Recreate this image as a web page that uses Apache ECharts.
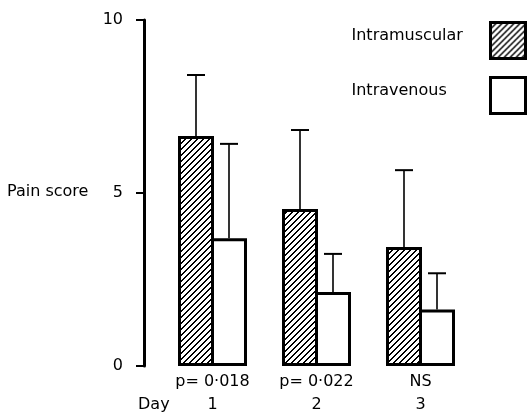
<!DOCTYPE html>
<html>
<head>
<meta charset="utf-8">
<script src="https://cdn.jsdelivr.net/npm/echarts@6/dist/echarts.min.js"></script>
<style>
html,body{margin:0;padding:0;background:#fff;}
#chart{width:527px;height:414px;}
</style>
</head>
<body>
<div id="chart"></div>
<script>
// ---- data ----
const days = ['1', '2', '3'];
const pLabels = ['p= 0·018', 'p= 0·022', 'NS'];
const seriesNames = ['Intramuscular', 'Intravenous'];
const intramuscular = [6.65, 4.54, 3.44];
const intramuscularUpper = [8.41, 6.82, 5.66];
const intravenous = [3.69, 2.14, 1.63];
const intravenousUpper = [6.42, 3.24, 2.68];
const yTicks = [0, 5, 10];

// ---- hatch pattern (crisp pixel diagonal "/") ----
function makeHatch() {
  const n = 6;
  const c = document.createElement('canvas');
  c.width = n; c.height = n;
  const g = c.getContext('2d');
  g.fillStyle = '#fff';
  g.fillRect(0, 0, n, n);
  g.fillStyle = '#000';
  for (let y = 0; y < n; y++) {
    const x = (n - 1 - y);
    g.fillRect(x, y, 1, 1);
    g.fillRect((x + 1) % n, y, 1, 1);
  }
  return c;
}
const hatch = makeHatch();

const BAR_W = 36;
const BORDER = 3;
const HALF_STEP = (BAR_W - BORDER) / 2;
const FONT = 'DejaVu Sans';
const FS = 16;

function errSeries(name, base, upper, side) {
  return {
    type: 'custom',
    name: name + ' error',
    silent: true,
    z: 1,
    data: base.map((v, i) => [i, v, upper[i]]),
    encode: { x: 0, y: [1, 2] },
    renderItem: function (params, api) {
      const lo = api.coord([api.value(0), api.value(1)]);
      const hi = api.coord([api.value(0), api.value(2)]);
      const x = lo[0] + side * HALF_STEP;
      return {
        type: 'group',
        children: [
          { type: 'line', shape: { x1: x, y1: lo[1], x2: x, y2: hi[1] }, style: { stroke: '#000', lineWidth: 1.6 } },
          { type: 'line', shape: { x1: x - 9, y1: hi[1], x2: x + 9, y2: hi[1] }, style: { stroke: '#000', lineWidth: 2 } }
        ]
      };
    }
  };
}

const chart = echarts.init(document.getElementById('chart'), null, { renderer: 'canvas' });
chart.setOption({
  animation: false,
  backgroundColor: '#fff',
  textStyle: { fontFamily: FONT, color: '#000' },
  grid: { left: 160.5, width: 312, top: 20, bottom: 48, containLabel: false, outerBoundsMode: 'none' },
  legend: {
    orient: 'vertical',
    right: 0,
    top: 21,
    padding: 0,
    align: 'right',
    itemWidth: 35,
    itemHeight: 36,
    itemGap: 16,
    icon: 'rect',
    data: seriesNames,
    itemStyle: { borderColor: '#000', borderWidth: 3 },
    formatter: function (name) { return '{t|' + name + '}'; },
    textStyle: {
      fontFamily: FONT, fontSize: FS, color: '#000',
      rich: { t: { width: 134, align: 'left', padding: [0, 0, 10, 0], fontFamily: FONT, fontSize: FS, color: '#000' } }
    }
  },
  xAxis: {
    type: 'category',
    data: days,
    axisLine: { show: false },
    axisTick: { show: false },
    splitLine: { show: false },
    axisLabel: {
      interval: 0,
      margin: 4,
      color: '#000',
      fontFamily: FONT,
      fontSize: FS,
      lineHeight: 23,
      formatter: function (v, i) { return pLabels[i] + '\n' + v; }
    }
  },
  yAxis: {
    type: 'value',
    min: 0, max: 10, interval: 5,
    offset: 16.5,
    axisLine: { show: true, lineStyle: { color: '#000', width: 3 } },
    axisTick: { show: true, length: 8, lineStyle: { color: '#000', width: 2 } },
    splitLine: { show: false },
    axisLabel: {
      margin: 21, color: '#000', fontFamily: FONT, fontSize: FS,
      formatter: function (v) { return yTicks.indexOf(v) >= 0 ? String(v) : ''; }
    }
  },
  graphic: [
    { type: 'text', left: 7, top: 184, style: { text: 'Pain score', font: FS + 'px "DejaVu Sans"', fill: '#000' } },
    { type: 'text', left: 138, top: 397, style: { text: 'Day', font: FS + 'px "DejaVu Sans"', fill: '#000' } }
  ],
  series: [
    {
      type: 'bar', name: seriesNames[0], data: intramuscular,
      barWidth: BAR_W, barGap: (-BORDER / BAR_W * 100) + '%', z: 2,
      itemStyle: { color: { image: hatch, repeat: 'repeat' }, borderColor: '#000', borderWidth: BORDER }
    },
    {
      type: 'bar', name: seriesNames[1], data: intravenous,
      barWidth: BAR_W, barGap: (-BORDER / BAR_W * 100) + '%', z: 2,
      itemStyle: { color: '#fff', borderColor: '#000', borderWidth: BORDER }
    },
    errSeries(seriesNames[0], intramuscular, intramuscularUpper, -1),
    errSeries(seriesNames[1], intravenous, intravenousUpper, 1)
  ]
});
</script>
</body>
</html>
